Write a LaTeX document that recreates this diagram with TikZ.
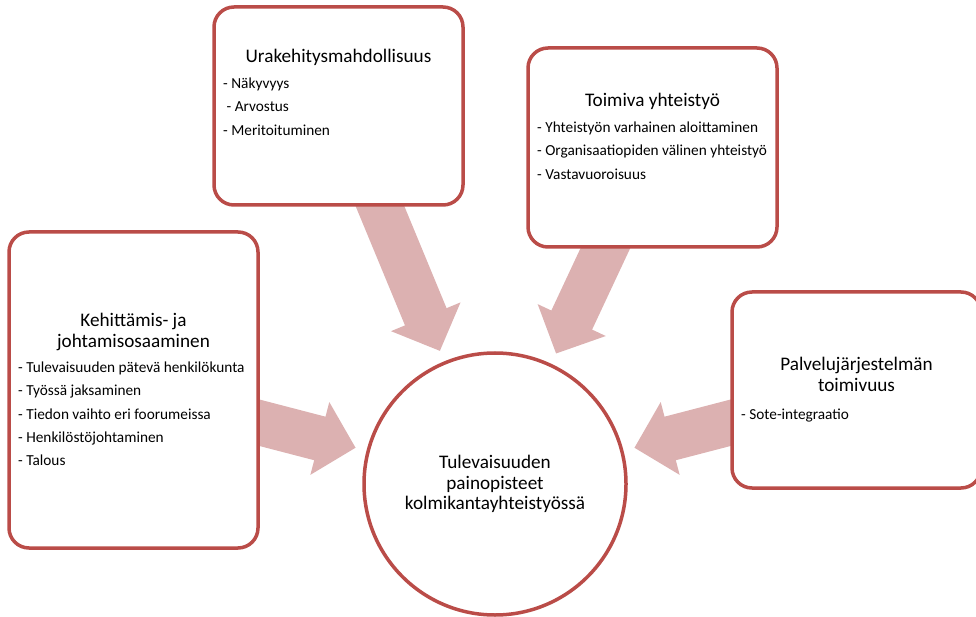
\documentclass[tikz,border=0pt]{standalone}
\usepackage{fontspec}
\setmainfont{Carlito}
\usetikzlibrary{positioning,arrows.meta,backgrounds}
\definecolor{reunapuna}{RGB}{186,76,72}
\definecolor{nuolipuna}{RGB}{220,177,177}

\begin{document}
\begin{tikzpicture}[
    x = 1pt,
    y = 1pt,
    laatikko/.style = {draw=reunapuna, line width=3.5pt, fill=white,
              rounded corners=20pt, minimum width=249pt,
              inner sep=0pt, outer sep=0pt},
    ympyra/.style = {circle, draw=reunapuna, line width=3.5pt, fill=white,
              minimum size=262pt, inner sep=0pt, outer sep=0pt,
              align=center, font=\fontsize{19.2}{20.8}\selectfont},
    otsikko/.style = {inner sep=0pt, align=center,
              font=\fontsize{19.2}{20.8}\selectfont},
    lista/.style = {inner sep=0pt, align=left,
              font=\fontsize{15.3}{23.4}\selectfont},
    nuoli/.style = {nuolipuna, line width=45pt,
              -{Triangle[width=73pt, length=37pt]}, shorten >=13pt},
    ]

\useasboundingbox (0,0) rectangle (976,616);

\node[laatikko, minimum height=198pt] (urat) at (338.5,510){};
\node[laatikko, minimum height=199pt] (yhteis) at (652.5,468.5){};
\node[laatikko, minimum height=316pt] (kehitys) at (133.5,226){};
\node[laatikko, minimum height=196pt] (palvelu) at (856.5,226){};
\node[ympyra] (keskus) at (495,132){Tulevaisuuden\\painopisteet\\kolmikantayhteistyössä};

\node[otsikko, below=42.4pt of urat.north] (urat_otsikko){Urakehitysmahdollisuus};
\node[lista, below right=70.5pt and 9pt of urat.north west] (urat_lista)
    {- Näkyvyys\\\ - Arvostus\\- Meritoituminen};

\node[otsikko, below=45.1pt of yhteis.north] (yhteis_otsikko){Toimiva yhteistyö};
\node[lista, below right=73.5pt and 9pt of yhteis.north west] (yhteis_lista)
    {- Yhteistyön varhainen aloittaminen\\- Organisaatiopiden välinen yhteistyö\\- Vastavuoroisuus};

\node[otsikko, below=81.1pt of kehitys.north] (kehitys_otsikko){Kehittämis- ja\\johtamisosaaminen};
\node[lista, below right=129.5pt and 9pt of kehitys.north west] (kehitys_lista)
    {- Tulevaisuuden pätevä henkilökunta\\- Työssä jaksaminen\\- Tiedon vaihto eri foorumeissa\\- Henkilöstöjohtaminen\\- Talous};

\node[otsikko, below=65.1pt of palvelu.north] (palvelu_otsikko){Palvelujärjestelmän\\toimivuus};
\node[lista, below right=117pt and 9pt of palvelu.north west] (palvelu_lista){- Sote-integraatio};

\begin{scope}[on background layer]
\draw [nuoli] (urat.center) -- (keskus);
\draw [nuoli] (yhteis.center) -- (keskus);
\draw [nuoli] (kehitys.center) -- (keskus);
\draw [nuoli] (palvelu.center) -- (keskus);
\end{scope}

\end{tikzpicture}
\end{document}
